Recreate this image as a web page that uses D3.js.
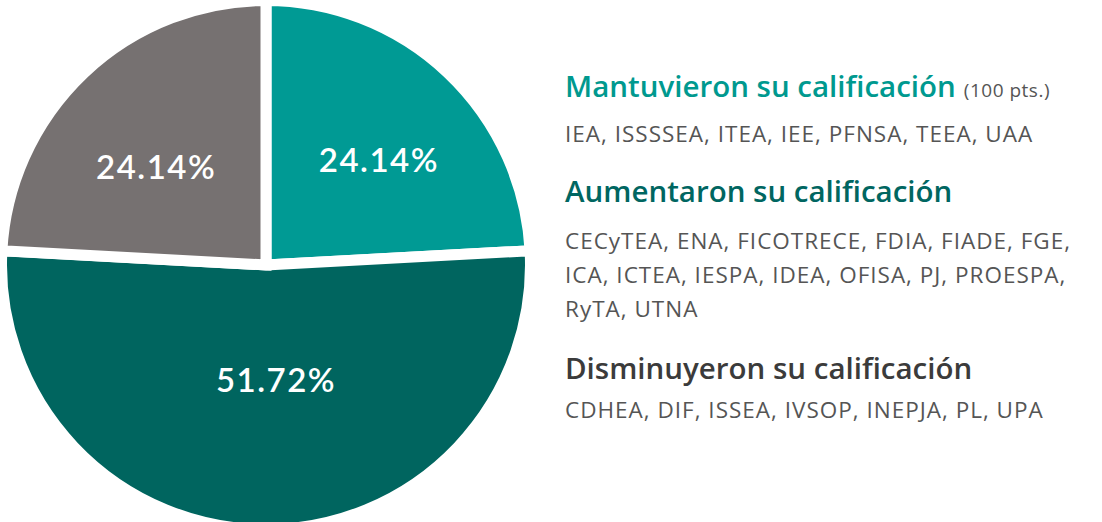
<!DOCTYPE html>
<html><head><meta charset="utf-8">
<script src="https://cdn.jsdelivr.net/npm/d3@7"></script>
<style>
html,body{margin:0;padding:0;background:#fff;}
svg{display:block;font-family:Lato,"Noto Sans",sans-serif;}
</style></head>
<body><svg id="chart" width="1102" height="522"></svg>
<script>
const categories = ["Mantuvieron su calificación", "Aumentaron su calificación", "Disminuyeron su calificación"];
const values = [24.14, 51.72, 24.14];
const colors = ["#009a94", "#00655f", "#767171"];
const titleColors = ["#00998f", "#006661", "#3b3b3b"];
const titleNotes = ["(100 pts.)", "", ""];
const entityLines = [
  ["IEA, ISSSSEA, ITEA, IEE, PFNSA, TEEA, UAA"],
  ["CECyTEA, ENA, FICOTRECE, FDIA, FIADE, FGE,", "ICA, ICTEA, IESPA, IDEA, OFISA, PJ, PROESPA,", "RyTA, UTNA"],
  ["CDHEA, DIF, ISSEA, IVSOP, INEPJA, PL, UPA"]
];

const svg = d3.select("#chart");
const cx = 266, cy = 265, r = 259, gap = 11;

const pie = d3.pie().sort(null).value(d => d.v);
const data = pie(categories.map((c, i) => ({c, v: values[i], i})));
const arc = d3.arc().innerRadius(0).outerRadius(r + gap / 2);

const g = svg.append("g").attr("transform", `translate(${cx},${cy})`);
g.selectAll("path").data(data).join("path")
  .attr("d", arc).attr("fill", d => colors[d.data.i])
  .attr("stroke", "#fff").attr("stroke-width", gap).attr("stroke-linejoin", "miter");

const lblArc = d => d3.arc().innerRadius(0).outerRadius(d.data.v > 50 ? 230 : 305);
g.selectAll("text.pct").data(data).join("text")
  .attr("class", "pct")
  .attr("transform", d => {
    const [x, y] = lblArc(d).centroid(d);
    const big = d.data.v > 50, right = x > 0;
    return `translate(${x + (big ? 10 : (right ? 8 : -5))},${y + (big ? 0 : (right ? 6 : 13))})`;
  })
  .attr("text-anchor", "middle").attr("dy", "0.36em")
  .attr("fill", "#fff").attr("font-size", 33).attr("font-weight", 600)
  .attr("letter-spacing", 1.5)
  .text(d => d3.format(".2f")(d.data.v) + "%");

// legend
const lx = 565;
const titleY = [97, 202, 379];
const firstLineY = [142, 249, 418];
const leg = svg.append("g").style("font-family", "'Open Sans','Noto Sans',sans-serif");
categories.forEach((c, i) => {
  const t = leg.append("text").attr("x", lx).attr("y", titleY[i])
    .attr("font-size", 29.5).attr("font-weight", 600).attr("fill", titleColors[i]);
  t.append("tspan").text(c);
  if (titleNotes[i]) t.append("tspan").attr("dx", 8).attr("font-size", 19)
    .attr("font-weight", 400).attr("letter-spacing", 0.5).attr("fill", "#555").text(titleNotes[i]);
  entityLines[i].forEach((line, j) => {
    leg.append("text").attr("x", lx).attr("y", firstLineY[i] + j * 34)
      .attr("font-size", 22.5).attr("letter-spacing", 1.0).attr("fill", "#555").text(line);
  });
});
</script></body></html>
